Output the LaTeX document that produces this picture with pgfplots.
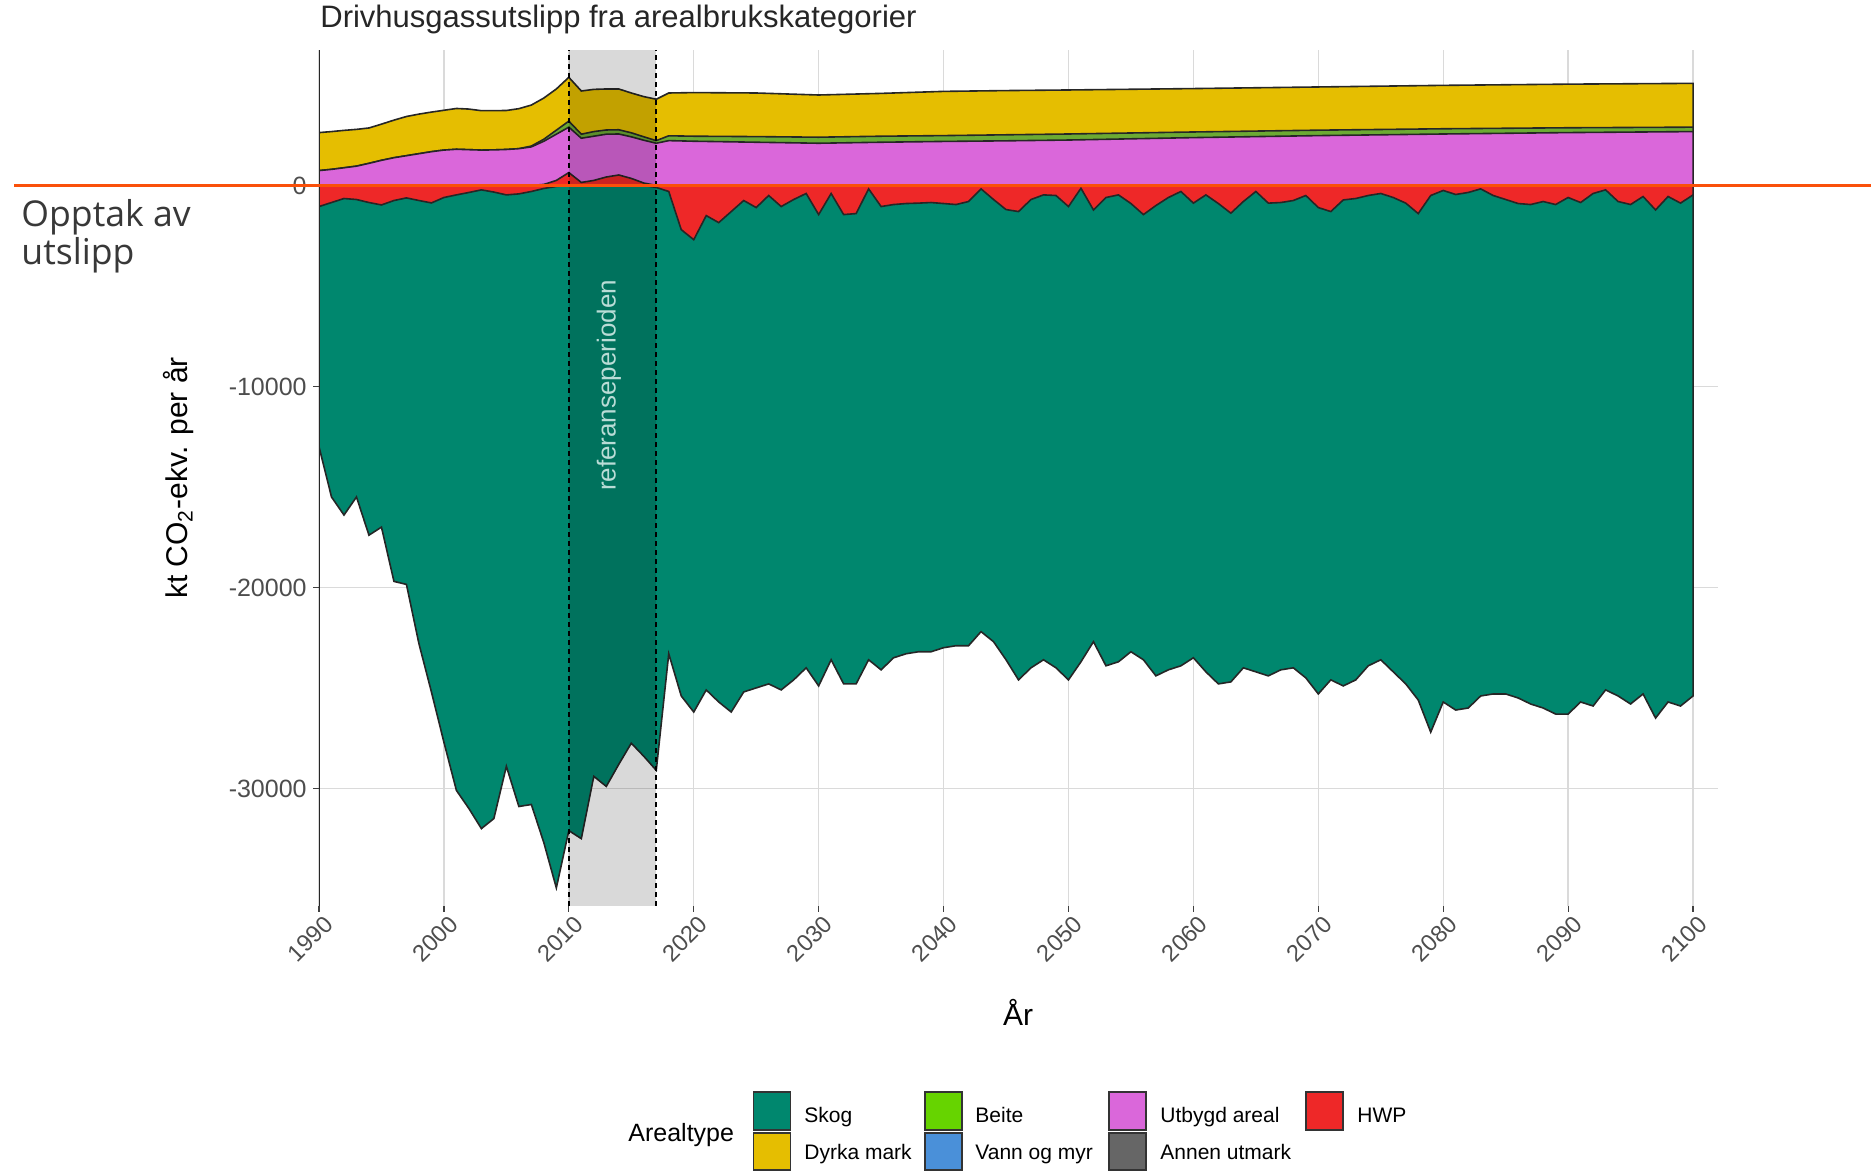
\documentclass[border=0pt]{standalone}
\usepackage{pgfplots}
\pgfplotsset{compat=1.18}
\usepackage{pgfplotstable}
\usepackage{fontspec}
\setmainfont{Liberation Sans}
\newfontfamily\annfont{Open Sans}

\definecolor{skog}{RGB}{0,135,110}
\definecolor{dyrka}{RGB}{229,190,1}
\definecolor{beite}{RGB}{102,212,0}
\definecolor{vann}{RGB}{74,144,217}
\definecolor{utbygd}{RGB}{218,103,218}
\definecolor{annen}{RGB}{102,102,102}
\definecolor{hwp}{RGB}{238,40,40}
\definecolor{oranj}{RGB}{250,80,10}
\definecolor{ticklab}{RGB}{77,77,77}
\definecolor{gridc}{RGB}{218,218,218}
\definecolor{reftext}{RGB}{185,220,214}
\definecolor{anntext}{RGB}{56,56,56}

% negative side: bottom of Skog (cumulative) and bottom of HWP
\pgfplotstableread{
year bottom redlow
1990 -13000 -1050
1991 -15500 -850
1992 -16400 -650
1993 -15500 -700
1994 -17400 -850
1995 -17000 -970
1996 -19700 -750
1997 -19850 -620
1998 -22800 -750
1999 -25200 -870
2000 -27700 -600
2001 -30100 -470
2002 -31000 -350
2003 -32000 -220
2004 -31500 -330
2005 -28900 -470
2006 -30900 -420
2007 -30800 -300
2008 -32700 -150
2009 -34950 -50
2010 -32100 0
2011 -32500 0
2012 -29400 0
2013 -29900 0
2014 -28800 0
2015 -27750 0
2016 -28400 0
2017 -29100 -100
2018 -23300 -300
2019 -25400 -2200
2020 -26200 -2700
2021 -25100 -1500
2022 -25700 -1850
2023 -26200 -1300
2024 -25200 -750
2025 -25000 -1100
2026 -24800 -500
2027 -25100 -1050
2028 -24600 -700
2029 -24000 -400
2030 -24900 -1450
2031 -23600 -400
2032 -24800 -1450
2033 -24800 -1400
2034 -23600 -170
2035 -24100 -1050
2036 -23500 -950
2037 -23300 -900
2038 -23200 -880
2039 -23200 -850
2040 -23000 -900
2041 -22900 -950
2042 -22900 -800
2043 -22200 -170
2044 -22700 -700
2045 -23600 -1200
2046 -24600 -1300
2047 -24000 -700
2048 -23600 -470
2049 -24000 -500
2050 -24600 -1050
2051 -23700 -140
2052 -22700 -1220
2053 -23900 -600
2054 -23700 -470
2055 -23200 -900
2056 -23600 -1450
2057 -24400 -1000
2058 -24100 -600
2059 -23900 -300
2060 -23500 -880
2061 -24200 -470
2062 -24800 -900
2063 -24700 -1380
2064 -24000 -800
2065 -24200 -300
2066 -24400 -880
2067 -24100 -850
2068 -24000 -750
2069 -24500 -500
2070 -25300 -1100
2071 -24600 -1300
2072 -24900 -720
2073 -24600 -650
2074 -23900 -500
2075 -23600 -400
2076 -24200 -600
2077 -24800 -880
2078 -25600 -1400
2079 -27200 -500
2080 -25700 -250
2081 -26100 -450
2082 -26000 -350
2083 -25400 -170
2084 -25300 -500
2085 -25300 -700
2086 -25500 -900
2087 -25800 -950
2088 -26000 -800
2089 -26300 -950
2090 -26300 -600
2091 -25700 -850
2092 -25900 -400
2093 -25100 -220
2094 -25400 -800
2095 -25800 -950
2096 -25300 -550
2097 -26500 -1220
2098 -25700 -550
2099 -25900 -880
2100 -25400 -470
}\negtab

% positive side: cumulative tops of HWP (>0), Utbygd areal, Beite, Dyrka mark
\pgfplotstableread{
year redhigh pink beite dyrka
1990 0 740 740 2630
1991 0 800 800 2680
1992 0 880 880 2740
1993 0 960 960 2790
1994 0 1100 1100 2860
1995 0 1250 1250 3050
1996 0 1380 1380 3250
1997 0 1480 1480 3430
1998 0 1580 1580 3550
1999 0 1680 1680 3650
2000 0 1760 1760 3740
2001 0 1800 1800 3830
2002 0 1780 1780 3800
2003 0 1760 1760 3720
2004 0 1770 1770 3720
2005 0 1790 1790 3730
2006 0 1830 1830 3820
2007 0 1920 1960 4000
2008 50 2200 2300 4350
2009 250 2550 2750 4800
2010 640 2900 3200 5380
2011 150 2350 2550 4700
2012 250 2450 2680 4780
2013 420 2550 2760 4800
2014 520 2560 2770 4800
2015 350 2420 2620 4600
2016 120 2250 2420 4420
2017 0 2100 2230 4290
2018 0 2230 2470 4600
2020 0 2200 2450 4620
2025 0 2150 2430 4600
2030 0 2100 2400 4500
2035 0 2150 2450 4580
2040 0 2190 2480 4680
2045 0 2220 2520 4720
2050 0 2260 2560 4750
2060 0 2380 2660 4820
2070 0 2480 2750 4900
2080 0 2560 2820 4980
2090 0 2630 2870 5040
2100 0 2680 2900 5080
}\postab

\begin{document}
\begin{tikzpicture}[x=1pt,y=1pt]
\useasboundingbox (0,0) rectangle (935.5,585.5);
\begin{axis}[
  at={(159.5pt,132.5pt)}, anchor=south west,
  scale only axis, width=699.5pt, height=428pt,
  xmin=1990, xmax=2102, ymin=-35850, ymax=6740,
  scaled x ticks=false, scaled y ticks=false,
  axis line style={draw=none},
  xtick={1990,2000,...,2100},
  xticklabels={1990,2000,2010,2020,2030,2040,2050,2060,2070,2080,2090,2100},
  ytick={-30000,-20000,-10000,0},
  yticklabels={-30000,-20000,-10000,0},
  tick pos=left, tick align=outside, major tick length=3pt,
  tick style={color=black!75, line width=0.6pt},
  grid=major, grid style={gridc, line width=0.7pt},
  xticklabel style={font=\fontsize{11.8}{13}\selectfont, text=ticklab, inner sep=0pt, xshift=5pt, yshift=-4pt, rotate=45, anchor=east},
  yticklabel style={font=\fontsize{12.5}{14}\selectfont, text=ticklab, inner sep=0pt, xshift=-3pt},
  every axis plot/.append style={line width=0.8pt, draw=black!85},
]
\addplot[fill=dyrka] table[x=year,y=dyrka]{\postab} \closedcycle;
\addplot[fill=beite!70!black!80] table[x=year,y=beite]{\postab} \closedcycle;
\addplot[fill=utbygd] table[x=year,y=pink]{\postab} \closedcycle;
\addplot[fill=hwp] table[x=year,y=redhigh]{\postab} \closedcycle;
\addplot[fill=skog] table[x=year,y=bottom]{\negtab} \closedcycle;
\addplot[fill=hwp] table[x=year,y=redlow]{\negtab} \closedcycle;
\fill[black, opacity=0.15] (axis cs:2010,-35850) rectangle (axis cs:2017,6740);
\draw[black, line width=1pt, dash pattern=on 2.5pt off 2pt] (axis cs:2010,-35850) -- (axis cs:2010,6740);
\draw[black, line width=1pt, dash pattern=on 2.5pt off 2pt] (axis cs:2017,-35850) -- (axis cs:2017,6740);
\node[rotate=90, font=\fontsize{13}{15}\selectfont, text=reftext] at (axis cs:2013.2,-9950) {referanseperioden};
\draw[black!85, line width=1.3pt] (axis cs:1990,-35850) -- (axis cs:1990,6740);
\end{axis}
% titles
\node[anchor=base west, inner sep=0pt, font=\fontsize{15.5}{18}\selectfont, text=black!85] at (160,571.5) {Drivhusgassutslipp fra arealbrukskategorier};
\node[anchor=center, inner sep=0pt, font=\fontsize{15}{18}\selectfont] at (509,79.5) {År};
\node[rotate=90, anchor=center, inner sep=0pt, font=\fontsize{15}{18}\selectfont] at (89.5,346.5) {kt CO\textsubscript{2}-ekv. per år};
% annotation overlay
\draw[oranj, line width=1.7pt] (7,492.6) -- (935.5,492.6);
\node[anchor=base west, inner sep=0pt, font=\annfont\fontsize{17.8}{20}\selectfont, text=anntext] at (10.5,472) {Opptak av};
\node[anchor=base west, inner sep=0pt, font=\annfont\fontsize{17.8}{20}\selectfont, text=anntext] at (10.5,453) {utslipp};
% legend
\node[anchor=base west, inner sep=0pt, font=\fontsize{12.5}{14}\selectfont] at (314,14.7) {Arealtype};
\begin{scope}[draw=black!80, line width=0.6pt]
\filldraw[fill=skog] (376.9,20.5) rectangle (395.4,39.5);
\filldraw[fill=dyrka] (376.9,0.5) rectangle (395.4,19);
\filldraw[fill=beite] (462.5,20.5) rectangle (481,39.5);
\filldraw[fill=vann] (462.5,0.5) rectangle (481,19);
\filldraw[fill=utbygd] (554.5,20.5) rectangle (573,39.5);
\filldraw[fill=annen] (554.5,0.5) rectangle (573,19);
\filldraw[fill=hwp] (653,20.5) rectangle (671.5,39.5);
\end{scope}
\begin{scope}[every node/.style={anchor=base west, inner sep=0pt, font=\fontsize{10.5}{12}\selectfont}]
\node at (402,24) {Skog};
\node at (402,5.5) {Dyrka mark};
\node at (487.5,24) {Beite};
\node at (487.5,5.5) {Vann og myr};
\node at (580,24) {Utbygd areal};
\node at (580,5.5) {Annen utmark};
\node at (678.5,24) {HWP};
\end{scope}
\end{tikzpicture}
\end{document}
